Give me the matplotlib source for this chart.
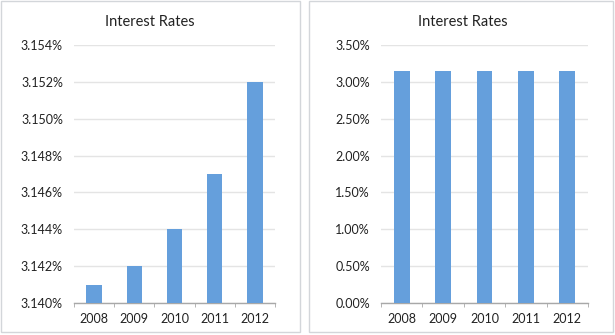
import matplotlib.pyplot as plt
import numpy as np
from matplotlib.patches import Rectangle
from matplotlib.ticker import FuncFormatter, MultipleLocator

plt.rcParams['font.family'] = ['Lato', 'DejaVu Sans']

# datos
years = ['2008', '2009', '2010', '2011', '2012']
rates = [0.03141, 0.03142, 0.03144, 0.03147, 0.03152]

bar_color = '#659FDC'
grid_color = '#E4E4E4'
axis_color = '#A8A8A8'

fig = plt.figure(figsize=(6.15, 3.35), dpi=100)
W, H = 615., 335.

# marcos de los paneles
for x0, x1 in [(1, 300), (309, 613)]:
    fig.patches.append(Rectangle((x0/W, 3/H), (x1-x0)/W, (334.5-3)/H,
                                 transform=fig.transFigure, fill=False,
                                 edgecolor='#D3D6DA', lw=1.0))

def panel(left, right, ylim, step, fmt, title_x):
    ax = fig.add_axes([left/W, (H-303)/H, (right-left)/W, (303-45)/H])
    x = np.arange(len(years))
    ax.bar(x, rates, width=0.38, color=bar_color, zorder=3)
    ax.set_xlim(-0.5, len(years)-0.5)
    ax.set_ylim(*ylim)
    ax.yaxis.set_major_locator(MultipleLocator(step))
    ax.yaxis.set_major_formatter(FuncFormatter(lambda v, p: fmt.format(v*100)))
    ax.grid(axis='y', color=grid_color, lw=1.0, zorder=0)
    for s in ['top', 'right', 'left']:
        ax.spines[s].set_visible(False)
    ax.spines['bottom'].set_color(axis_color)
    ax.spines['bottom'].set_linewidth(1.0)
    ax.set_xticks(x)
    ax.set_xticklabels(years)
    ax.set_xticks(np.arange(-0.5, len(years)), minor=True)
    ax.tick_params(axis='x', which='major', length=0, pad=7, labelsize=9, colors='#222222')
    ax.tick_params(axis='x', which='minor', length=3, color=axis_color, direction='out')
    ax.tick_params(axis='y', length=0, pad=8, labelsize=9, colors='#222222')
    fig.text(title_x/W, (H-22)/H, 'Interest Rates', ha='center', va='center',
             fontsize=10.5, color='#222222')
    return ax

panel(74, 275, (0.0314, 0.03154), 0.00002, '{:.3f}%', 150)
panel(381, 588, (0.0, 0.035), 0.005, '{:.2f}%', 463)

fig.savefig('out.png', dpi=100)
